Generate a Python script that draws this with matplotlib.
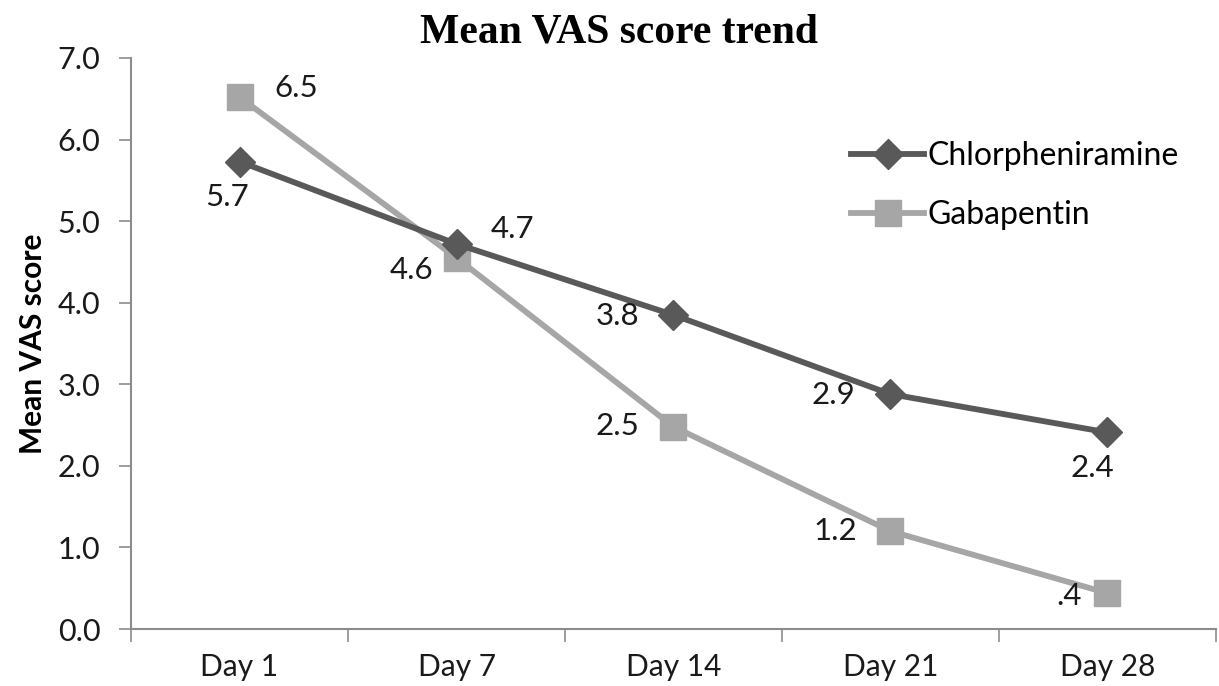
import matplotlib
matplotlib.use("Agg")
import matplotlib.pyplot as plt
from matplotlib.ticker import FixedLocator

days = ["Day 1", "Day 7", "Day 14", "Day 21", "Day 28"]
chlor_vals = [5.73, 4.72, 3.85, 2.88, 2.41]
gaba_vals = [6.52, 4.55, 2.48, 1.2, 0.44]
chlor_labels = ["5.7", "4.7", "3.8", "2.9", "2.4"]
gaba_labels = ["6.5", "4.6", "2.5", "1.2", ".4"]
y_ticks = [0, 1, 2, 3, 4, 5, 6, 7]

#label offsets in pixels
chlor_off = [(-12, -35), (56, 15), (-56, -1), (-57, -1), (-15, -36)]
gaba_off = [(57, 9), (-45, -12), (-56, 1), (-55, 0), (-38, -3)]

dark = "#595959"
light = "#a6a6a6"
axis_col = "#8c8c8c"
font = "Lato"

fig = plt.figure(figsize=(12.19, 6.86), dpi=100)
ax = fig.add_axes([0.1075, 0.083, 0.89, 0.8325])

x = list(range(len(days)))
ax.plot(x, chlor_vals, color=dark, lw=4.2, marker="D", ms=15,
        label="Chlorpheniramine", zorder=3)
ax.plot(x, gaba_vals, color=light, lw=4.2, marker="s", ms=19,
        label="Gabapentin", zorder=2)

for i in x:
    ax.annotate(chlor_labels[i], (i, chlor_vals[i]), xytext=chlor_off[i],
                textcoords="offset pixels", ha="center", va="center",
                fontsize=22.5, family=font, color="#1a1a1a")
    ax.annotate(gaba_labels[i], (i, gaba_vals[i]), xytext=gaba_off[i],
                textcoords="offset pixels", ha="center", va="center",
                fontsize=22.5, family=font, color="#1a1a1a")

ax.set_xlim(-0.5, 4.5)
ax.set_ylim(0, 7)
ax.set_yticks(y_ticks)
ax.set_yticklabels([f"{v:.1f}" for v in y_ticks], family=font, fontsize=22,
                   color="#1a1a1a")
ax.set_xticks(x)
ax.set_xticklabels(days, family=font, fontsize=21.5, color="#1a1a1a")
ax.xaxis.set_minor_locator(FixedLocator([i + 0.5 for i in range(-1, len(days))]))
ax.tick_params(axis="x", which="major", length=0, pad=17)
ax.tick_params(axis="x", which="minor", length=9, color=axis_col, width=1.2)
ax.tick_params(axis="y", length=9, color=axis_col, width=1.2, pad=13)

for s in ["top", "right"]:
    ax.spines[s].set_visible(False)
for s in ["left", "bottom"]:
    ax.spines[s].set_color(axis_col)
    ax.spines[s].set_linewidth(1.5)

ax.set_ylabel("Mean VAS score", family=font, fontsize=21.5, fontweight="bold",
              labelpad=8)
fig.text(0.508, 0.953, "Mean VAS score trend", ha="center", va="center",
         family="Liberation Serif", fontweight="bold", fontsize=30)

leg = ax.legend(loc="upper left", bbox_to_anchor=(0.637, 0.905), frameon=False,
                prop={"family": font, "size": 23}, handlelength=2.3,
                handletextpad=0.1, labelspacing=0.9)

fig.savefig("out.png", dpi=100)
